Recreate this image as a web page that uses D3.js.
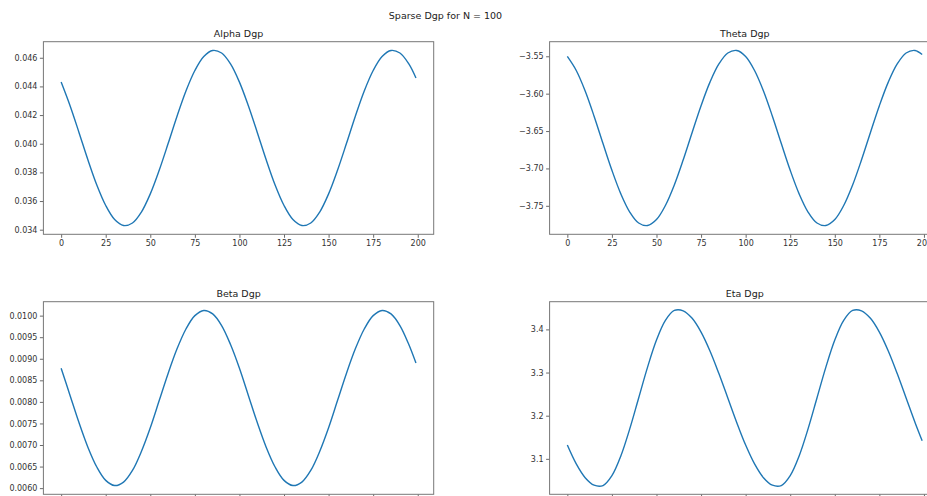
<!DOCTYPE html>
<html>
<head>
<meta charset="utf-8">
<script src="https://cdn.jsdelivr.net/npm/d3@7"></script>
<style>
    body { margin: 0; background: #fff; }
    svg { display: block; font-family: "DejaVu Sans", sans-serif; }
</style>
</head>
<body>
<svg id="chart"></svg>
<script>
// Data (time step, then one array per panel)
const steps = [0, 5, 10, 15, 20, 25, 30, 35, 40, 45, 50, 55, 60, 65, 70, 75, 80, 85, 90, 95,
    100, 105, 110, 115, 120, 125, 130, 135, 140, 145, 150, 155, 160, 165, 170, 175, 180, 185, 190, 195, 199];

const alphaDgp = [0.04430, 0.04265, 0.04079, 0.03888, 0.03712, 0.03569, 0.03471, 0.03429, 0.03447, 0.03523,
    0.03650, 0.03815, 0.04001, 0.04192, 0.04368, 0.04511, 0.04609, 0.04651, 0.04633, 0.04557,
    0.04430, 0.04265, 0.04079, 0.03888, 0.03712, 0.03569, 0.03471, 0.03429, 0.03447, 0.03523,
    0.03650, 0.03815, 0.04001, 0.04192, 0.04368, 0.04511, 0.04609, 0.04651, 0.04633, 0.04557, 0.04459];

const thetaDgp = [-3.5502, -3.5690, -3.5964, -3.6301, -3.6667, -3.7025, -3.7340, -3.7583, -3.7730, -3.7764,
    -3.7684, -3.7496, -3.7222, -3.6885, -3.6519, -3.6161, -3.5846, -3.5603, -3.5456, -3.5422,
    -3.5502, -3.5690, -3.5964, -3.6301, -3.6667, -3.7025, -3.7340, -3.7583, -3.7730, -3.7764,
    -3.7684, -3.7496, -3.7222, -3.6885, -3.6519, -3.6161, -3.5846, -3.5603, -3.5456, -3.5422, -3.5477];

const betaDgp = [0.00878, 0.00815, 0.00752, 0.00695, 0.00649, 0.00618, 0.00606, 0.00614, 0.00641, 0.00685,
    0.00740, 0.00803, 0.00866, 0.00923, 0.00969, 0.01000, 0.01012, 0.01004, 0.00977, 0.00933,
    0.00878, 0.00815, 0.00752, 0.00695, 0.00649, 0.00618, 0.00606, 0.00614, 0.00641, 0.00685,
    0.00740, 0.00803, 0.00866, 0.00923, 0.00969, 0.01000, 0.01012, 0.01004, 0.00977, 0.00933, 0.00890];

const etaDgp = [3.1319, 3.0882, 3.0563, 3.0389, 3.0381, 3.0611, 3.1067, 3.1694, 3.2410, 3.3126,
    3.3753, 3.4209, 3.4439, 3.4431, 3.4257, 3.3938, 3.3501, 3.2977, 3.2410, 3.1843,
    3.1319, 3.0882, 3.0563, 3.0389, 3.0381, 3.0611, 3.1067, 3.1694, 3.2410, 3.3126,
    3.3753, 3.4209, 3.4439, 3.4431, 3.4257, 3.3938, 3.3501, 3.2977, 3.2410, 3.1843, 3.1418];

// Tick labels
const xTicks = [0, 25, 50, 75, 100, 125, 150, 175, 200];
const alphaTicks = [0.034, 0.036, 0.038, 0.040, 0.042, 0.044, 0.046];
const thetaTicks = [-3.75, -3.70, -3.65, -3.60, -3.55];
const betaTicks = [0.0060, 0.0065, 0.0070, 0.0075, 0.0080, 0.0085, 0.0090, 0.0095, 0.0100];
const etaTicks = [3.1, 3.2, 3.3, 3.4];

const suptitle = "Sparse Dgp for N = 100";

// Layout
const W = 927, H = 496;
const panelW = 390.3, panelH = 192.6;
const colX = [43.4, 549.6];
const rowY = [41.7, 301.7];

const panels = [
    { title: "Alpha Dgp", values: alphaDgp, ticks: alphaTicks, fmt: d3.format(".3f"), col: 0, row: 0 },
    { title: "Theta Dgp", values: thetaDgp, ticks: thetaTicks, fmt: d3.format(".2f"), col: 1, row: 0 },
    { title: "Beta Dgp", values: betaDgp, ticks: betaTicks, fmt: d3.format(".4f"), col: 0, row: 1 },
    { title: "Eta Dgp", values: etaDgp, ticks: etaTicks, fmt: d3.format(".1f"), col: 1, row: 1 }
];

const svg = d3.select("#chart")
    .attr("width", W)
    .attr("height", H);

svg.append("rect").attr("width", W).attr("height", H).attr("fill", "#fff");

svg.append("text")
    .attr("x", 445.5)
    .attr("y", 18.5)
    .attr("text-anchor", "middle")
    .attr("font-size", "9.5px")
    .attr("fill", "#222")
    .text(suptitle);

// matplotlib style 5% padding around the data range
function padded(extent) {
    const pad = (extent[1] - extent[0]) * 0.05;
    return [extent[0] - pad, extent[1] + pad];
}

panels.forEach(p => {
    const g = svg.append("g")
        .attr("transform", `translate(${colX[p.col]},${rowY[p.row]})`);

    const x = d3.scaleLinear()
        .domain(padded(d3.extent(steps)))
        .range([0, panelW]);

    const y = d3.scaleLinear()
        .domain(padded(d3.extent(p.values)))
        .range([panelH, 0]);

    // bottom row labels fall below the picture edge in the reference, so only the tick marks show
    const xFmt = p.row === 0 ? d3.format("d") : () => "";

    const xAxis = g.append("g")
        .attr("transform", `translate(0,${panelH})`)
        .call(d3.axisBottom(x).tickValues(xTicks).tickSize(3.5).tickPadding(2.5).tickFormat(xFmt));

    const yAxis = g.append("g")
        .call(d3.axisLeft(y).tickValues(p.ticks).tickSize(3.5).tickPadding(2.5).tickFormat(p.fmt));

    [xAxis, yAxis].forEach(a => {
        a.select(".domain").remove();
        a.selectAll(".tick line").attr("stroke", "#444").attr("stroke-width", 0.8);
        a.selectAll(".tick text")
            .attr("fill", "#333")
            .attr("font-size", "8px")
            .attr("font-family", "DejaVu Sans, sans-serif");
    });

    const line = d3.line()
        .x((d, i) => x(steps[i]))
        .y(d => y(d))
        .curve(d3.curveCatmullRom.alpha(0.5));

    g.append("path")
        .datum(p.values)
        .attr("fill", "none")
        .attr("stroke", "#1f77b4")
        .attr("stroke-width", 1.4)
        .attr("d", line);

    g.append("rect")
        .attr("width", panelW)
        .attr("height", panelH)
        .attr("fill", "none")
        .attr("stroke", "#777")
        .attr("stroke-width", 1);

    g.append("text")
        .attr("x", panelW / 2)
        .attr("y", -5.2)
        .attr("text-anchor", "middle")
        .attr("font-size", "9.5px")
        .attr("fill", "#222")
        .text(p.title);
});
</script>
</body>
</html>
